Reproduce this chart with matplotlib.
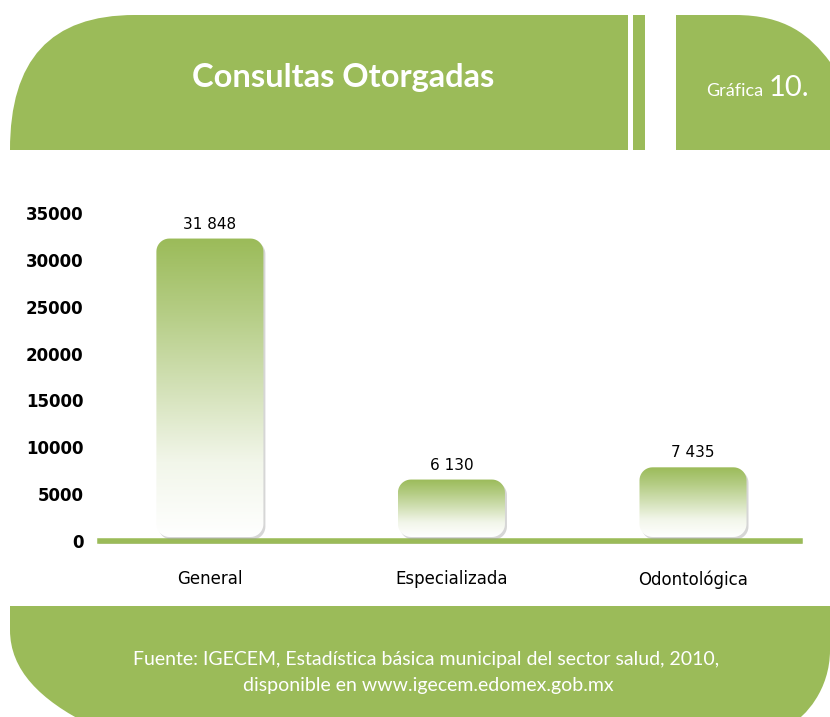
import numpy as np
import matplotlib
matplotlib.use("Agg")
import matplotlib.pyplot as plt
from matplotlib.patches import PathPatch, Rectangle, Polygon
from matplotlib.path import Path
from matplotlib.colors import LinearSegmentedColormap

# data
categories = ["General", "Especializada", "Odontológica"]
values = [31848, 6130, 7435]
value_labels = ["31 848", "6 130", "7 435"]
yticks = [0, 5000, 10000, 15000, 20000, 25000, 30000, 35000]

green = "#9BBB59"
W, H = 830, 717

fig = plt.figure(figsize=(W / 100, H / 100), dpi=100)

# background decoration, pixel coords (y down)
bg = fig.add_axes([0, 0, 1, 1])
bg.set_xlim(0, W)
bg.set_ylim(H, 0)
bg.axis("off")

# header left block with rounded top-left corner
verts = [(10, 150), (10, 60), (50, 15), (135, 15), (628, 15), (628, 150), (10, 150)]
codes = [Path.MOVETO, Path.CURVE4, Path.CURVE4, Path.CURVE4, Path.LINETO, Path.LINETO, Path.CLOSEPOLY]
bg.add_patch(PathPatch(Path(verts, codes), facecolor=green, edgecolor="none"))
# thin strip
bg.add_patch(Rectangle((633, 15), 12, 135, facecolor=green, edgecolor="none"))
# header right block with rounded top-right corner
verts = [(676, 150), (676, 15), (735, 15), (785, 15), (810, 35), (830, 62), (830, 150), (676, 150)]
codes = [Path.MOVETO, Path.LINETO, Path.LINETO, Path.CURVE4, Path.CURVE4, Path.CURVE4, Path.LINETO, Path.CLOSEPOLY]
bg.add_patch(PathPatch(Path(verts, codes), facecolor=green, edgecolor="none"))

# footer
verts = [(10, 606), (830, 606), (830, 650), (830, 690), (805, 717), (790, 725),
         (90, 725), (40, 700), (10, 670), (10, 630), (10, 606)]
codes = [Path.MOVETO, Path.LINETO, Path.LINETO, Path.CURVE4, Path.CURVE4, Path.CURVE4,
         Path.LINETO, Path.CURVE4, Path.CURVE4, Path.CURVE4, Path.CLOSEPOLY]
bg.add_patch(PathPatch(Path(verts, codes), facecolor=green, edgecolor="none"))

bg.text(343, 77, "Consultas Otorgadas", color="white", fontsize=23.5, family="Lato",
        weight="bold", ha="center", va="center")
bg.text(763, 96, "Gráfica", color="white", fontsize=13, family="Lato",
        ha="right", va="baseline")
bg.text(769, 96, "10.", color="white", fontsize=21, family="Lato",
        ha="left", va="baseline")
bg.text(426, 660, "Fuente: IGECEM, Estadística básica municipal del sector salud, 2010,",
        color="white", fontsize=14, family="Lato", ha="center", va="center")
bg.text(428, 685, "disponible en www.igecem.edomex.gob.mx",
        color="white", fontsize=14, family="Lato", ha="center", va="center")

# chart axes
x0, x1 = 100, 800
y_base, y_top = 541, 213
ax = fig.add_axes([x0 / W, (H - y_base) / H, (x1 - x0) / W, (y_base - y_top) / H])
ax.patch.set_alpha(0)

px_x = 241.5                       # pixels per category
px_y = (y_base - y_top) / 35000    # pixels per unit
xpos = np.arange(len(categories))
bw = 107 / px_x
rx = 13 / px_x
ry = 13 / px_y


def rounded_rect(xl, yb, w, h):
    pts = []
    t = np.linspace(0, np.pi / 2, 12)
    corners = [(xl + w - rx, yb + h - ry, 0), (xl + rx, yb + h - ry, np.pi / 2),
               (xl + rx, yb + ry, np.pi), (xl + w - rx, yb + ry, 1.5 * np.pi)]
    for cx, cy, a0 in corners:
        for a in a0 + t:
            pts.append((cx + rx * np.cos(a), cy + ry * np.sin(a)))
    return np.array(pts)


cmap = LinearSegmentedColormap.from_list("g", ["#FFFFFF", "#F2F6EA", "#D3E1B7", "#B5CD85", green])
grad = np.linspace(0, 1, 256).reshape(-1, 1)

ax.plot([-0.455, 2.443], [-130, -130], color="#a0a0a0", lw=2, alpha=0.4, clip_on=False, zorder=1)
ax.plot([-0.455, 2.443], [0, 0], color=green, lw=4, clip_on=False, zorder=2)

for x, v, lab in zip(xpos, values, value_labels):
    sh = Polygon(rounded_rect(x - bw / 2 + 2 / px_x, 1.5 / px_y, bw, v),
                 closed=True, facecolor="#9a9a9a", alpha=0.4, edgecolor="none",
                 zorder=2.5, clip_on=False)
    ax.add_patch(sh)
    p = Polygon(rounded_rect(x - bw / 2, 4 / px_y, bw, v), closed=True,
                facecolor="none", edgecolor="none", zorder=3)
    ax.add_patch(p)
    im = ax.imshow(grad, cmap=cmap, extent=[x - bw / 2, x + bw / 2, 4 / px_y, v + 4 / px_y],
                   origin="lower", aspect="auto", zorder=3)
    im.set_clip_path(p)
    ax.text(x, v + 11 / px_y, lab, ha="center", va="bottom", fontsize=11, family="DejaVu Sans")

ax.set_xlim(-0.455, 2.443)
ax.set_ylim(0, 35000)
ax.set_yticks(yticks)
ax.set_yticklabels([str(t) for t in yticks], fontsize=12, family="DejaVu Sans", weight="bold")
ax.set_xticks(xpos)
ax.set_xticklabels(categories, fontsize=12, family="DejaVu Sans")
ax.tick_params(axis="y", length=0, pad=12)
ax.tick_params(axis="x", length=0, pad=21)
for s in ax.spines.values():
    s.set_visible(False)

fig.savefig("out.png", dpi=100)
